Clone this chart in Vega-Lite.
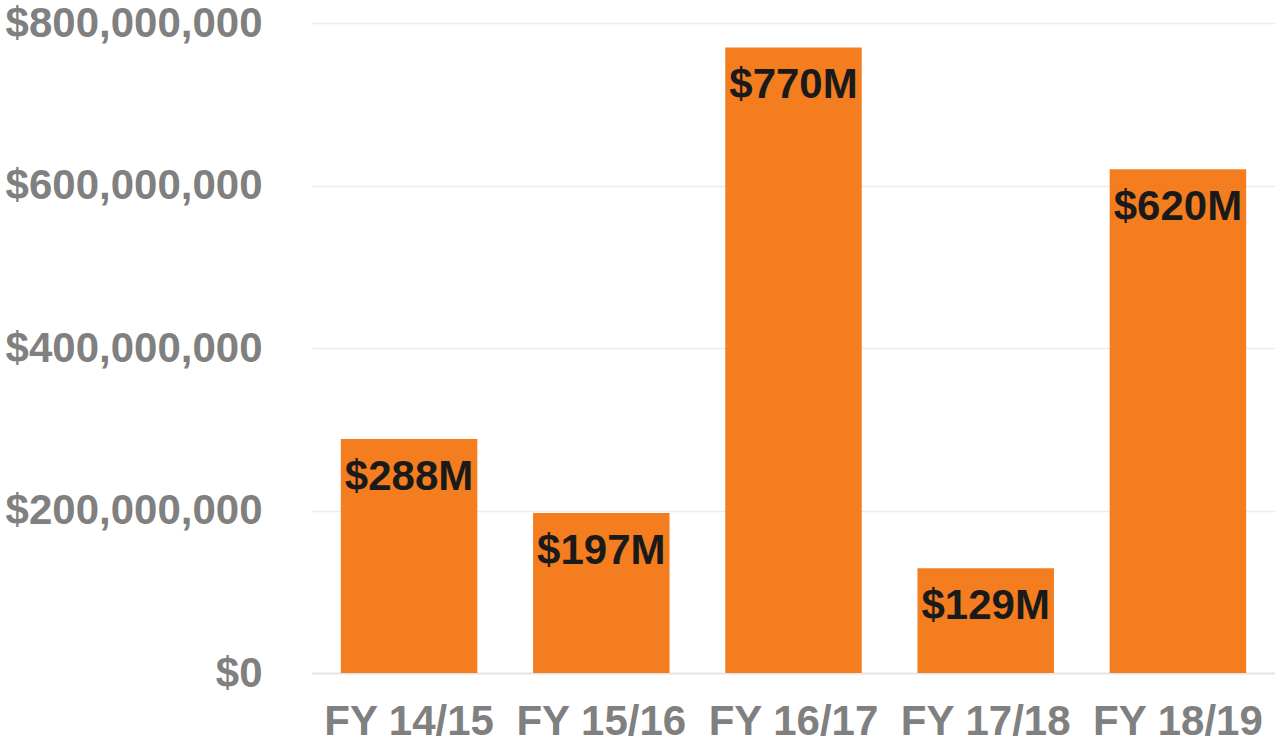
{
  "$schema": "https://vega.github.io/schema/vega-lite/v6.json",
  "autosize": "none",
  "width": 963,
  "height": 650,
  "padding": {"left": 312, "top": 23, "right": 0, "bottom": 68},
  "background": "white",
  "config": {"view": {"stroke": null}, "font": "Liberation Sans"},
  "data": {"values": [
    {"year": "FY 14/15", "value": 288000000, "label": "$288M"},
    {"year": "FY 15/16", "value": 197000000, "label": "$197M"},
    {"year": "FY 16/17", "value": 770000000, "label": "$770M"},
    {"year": "FY 17/18", "value": 129000000, "label": "$129M"},
    {"year": "FY 18/19", "value": 620000000, "label": "$620M"}
  ]},
  "encoding": {
    "x": {"field": "year", "type": "nominal", "sort": null,
      "scale": {"paddingInner": 0.29, "paddingOuter": 0.15},
      "axis": {"title": null, "labelAngle": 0, "labelLimit": 0, "labelFont": "Liberation Sans", "labelFontSize": 42, "labelFontWeight": "bold", "labelColor": "#808080", "labelPadding": 28, "ticks": false, "domain": true, "domainColor": "#e6e6e6", "domainWidth": 2}},
    "y": {"field": "value", "type": "quantitative",
      "scale": {"domain": [0, 800000000]},
      "axis": {"title": null, "values": [0, 200000000, 400000000, 600000000, 800000000], "format": "$,.0f", "labelLimit": 0, "labelFont": "Liberation Sans", "labelFontSize": 42, "labelFontWeight": "bold", "labelColor": "#808080", "labelPadding": 50, "ticks": false, "domain": false, "grid": true, "gridColor": "#ebebeb", "gridWidth": 1.5}}
  },
  "layer": [
    {"mark": {"type": "bar", "color": "#F47D20"}},
    {"mark": {"type": "text", "baseline": "middle", "align": "center", "dy": 38, "font": "Liberation Sans", "fontSize": 42, "fontWeight": "bold", "color": "#1a1a1a"},
     "encoding": {"text": {"field": "label"}}}
  ]
}
